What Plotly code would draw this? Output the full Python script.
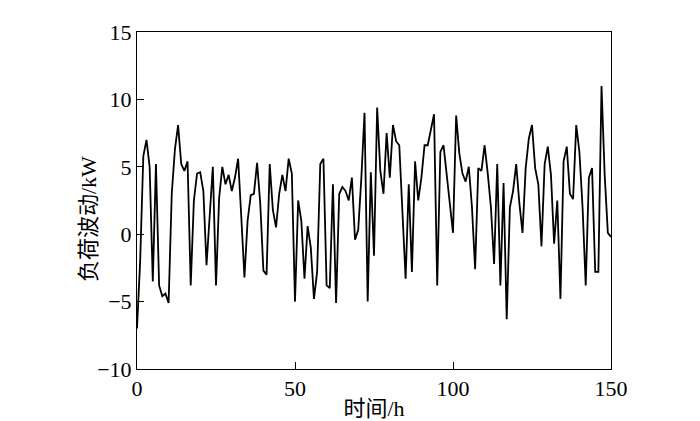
import plotly.graph_objects as go

# hourly load fluctuation (kW)
hours = list(range(0, 151))
load_kw = [
    -7.0, -2.0, 5.8, 7.0, 5.0, -3.5, 5.2, -3.8, -4.6, -4.4,
    -5.1, 3.0, 6.3, 8.1, 5.2, 4.7, 5.4, -3.8, 2.5, 4.5,
    4.6, 3.2, -2.3, 1.3, 5.0, -3.8, 2.7, 5.0, 3.7, 4.4,
    3.2, 4.2, 5.6, 1.3, -3.2, 1.0, 2.9, 3.0, 5.3, 2.3,
    -2.7, -3.0, 5.2, 1.8, 0.5, 3.0, 4.4, 3.2, 5.6, 4.5,
    -5.0, 2.5, 1.0, -3.3, 0.6, -1.0, -4.8, -2.8, 5.2, 5.6,
    -3.8, -4.0, 3.7, -5.1, 3.0, 3.5, 3.2, 2.5, 4.2, -0.4,
    0.3, 4.2, 9.0, -5.0, 4.6, -1.6, 9.4, 4.7, 3.0, 7.5,
    4.2, 8.1, 6.9, 6.6, 1.5, -3.3, 3.7, -2.8, 5.4, 2.5,
    4.2, 6.6, 6.6, 7.8, 8.9, -3.8, 6.1, 6.6, 4.5, 2.0,
    0.1, 8.8, 6.0, 4.5, 3.9, 5.0, 2.0, -2.6, 4.9, 4.7,
    6.6, 4.5, 2.0, -2.2, 5.2, -3.8, 3.8, -6.3, 2.0, 3.2,
    5.2, 2.3, 0.1, 4.9, 7.1, 8.1, 4.9, 3.7, -0.9, 5.2,
    6.5, 4.4, -0.7, 2.5, -4.8, 5.4, 6.5, 3.0, 2.6, 8.1,
    6.1, 2.0, -3.8, 4.2, 4.9, -2.8, -2.8, 11.0, 4.4, 0.1,
    -0.2,
]

x_ticks = [0, 50, 100, 150]
y_ticks = [-10, -5, 0, 5, 10, 15]

FONT = "Liberation Serif, Noto Sans CJK SC, serif"

fig = go.Figure()
fig.add_trace(
    go.Scatter(x=hours, y=load_kw, mode="lines", line=dict(color="black", width=1.8), showlegend=False)
)

axis_style = dict(
    showline=True,
    linecolor="black",
    linewidth=1,
    mirror=True,
    ticks="inside",
    ticklen=7,
    tickcolor="black",
    showgrid=False,
    zeroline=False,
    tickfont=dict(family=FONT, size=22, color="black"),
)

# the page has an 8px body margin, so margins are shifted to land the plot box where the reference has it
fig.update_layout(
    width=700,
    height=421,
    margin=dict(l=129, r=97, t=16, b=60),
    plot_bgcolor="white",
    paper_bgcolor="white",
    xaxis=dict(
        **axis_style,
        range=[0, 150],
        tickvals=x_ticks,
        title=dict(text="时间/h", font=dict(family=FONT, size=22, color="black"), standoff=0),
    ),
    yaxis=dict(**axis_style, range=[-10, 15], tickvals=y_ticks),
)

# y title sits close to the tick labels and a bit below centre in the reference
fig.add_annotation(
    text="负荷波动/kW",
    xref="paper",
    yref="paper",
    x=0,
    y=0.445,
    xshift=-49,
    xanchor="center",
    yanchor="middle",
    textangle=-90,
    showarrow=False,
    font=dict(family=FONT, size=22, color="black"),
)

fig.write_html("out.html")
